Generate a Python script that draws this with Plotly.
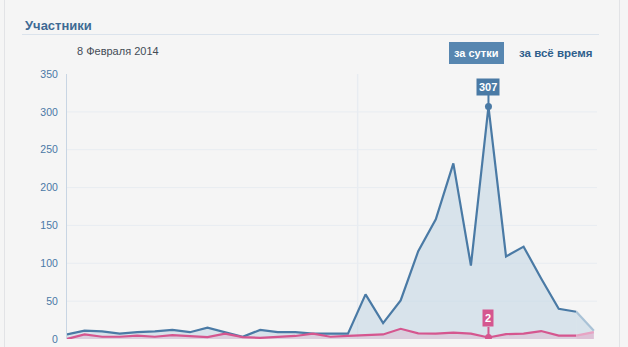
import plotly.graph_objects as go

# ---- data ----
idx = list(range(31))
members_total = [6, 11, 10, 7, 9, 10, 12, 9, 15, 9, 3, 12, 9, 9, 7, 7, 7,
                 59, 21, 51, 116, 158, 232, 97, 307, 109, 122, 80, 40, 36, 11]
members_new = [0, 6, 3, 3, 4.5, 3, 5, 4, 2.5, 7, 2.5, 1.5, 2.5, 4, 7, 3, 4,
               5, 6, 13.5, 7.5, 7, 8.5, 7, 2, 6.5, 7, 10.5, 4.5, 4.5, 9]
y_ticks = [0, 50, 100, 150, 200, 250, 300, 350]
grid_vals = [50, 100, 150, 200, 250, 300]
day_sep = [16.55]
peak_idx = 24

title_text = "Участники"
date_text = "8 Февраля 2014"
btn_active = "за сутки"
btn_other = "за всё время"

# ---- styles ----
BLUE = "#4a7aa5"
BLUE_LIGHT = "#a9c2d6"
BLUE_FILL = "rgba(196,215,229,0.6)"
PINK = "#d5568f"
PINK_LIGHT = "#e7a3c3"
PINK_FILL = "rgba(222,180,205,0.45)"
BG = "#f5f5f5"
TICK_C = "#4a78a6"
GRID_C = "#e8ecf1"
FONT = "Liberation Sans"

W, H = 628, 347
ML, MR, MT, MB = 67, 31, 74, 8
PW = W - ML - MR
PH = H - MT - MB


def px(x):
    return (x - ML) / PW


def py(y):
    return (H - MB - y) / PH


fig = go.Figure()
n = len(idx)
fig.add_trace(go.Scatter(x=idx[:n - 1], y=members_total[:n - 1], mode="lines",
                         line=dict(color=BLUE, width=2.2), fill="tozeroy",
                         fillcolor=BLUE_FILL, hoverinfo="skip"))
fig.add_trace(go.Scatter(x=idx[n - 2:], y=members_total[n - 2:], mode="lines",
                         line=dict(color=BLUE_LIGHT, width=2.2), fill="tozeroy",
                         fillcolor=BLUE_FILL, hoverinfo="skip"))
fig.add_trace(go.Scatter(x=idx[:n - 1], y=members_new[:n - 1], mode="lines",
                         line=dict(color=PINK, width=2.2), fill="tozeroy",
                         fillcolor=PINK_FILL, hoverinfo="skip"))
fig.add_trace(go.Scatter(x=idx[n - 2:], y=members_new[n - 2:], mode="lines",
                         line=dict(color=PINK_LIGHT, width=2.2), fill="tozeroy",
                         fillcolor="rgba(225,170,200,0.6)", hoverinfo="skip"))
fig.add_trace(go.Scatter(x=[idx[peak_idx]], y=[members_total[peak_idx]], mode="markers",
                         marker=dict(color=BLUE, size=7), hoverinfo="skip"))
fig.add_trace(go.Scatter(x=[idx[peak_idx]], y=[members_new[peak_idx]], mode="markers",
                         marker=dict(color=PINK, size=7), hoverinfo="skip"))

shapes = []
for g in grid_vals:
    shapes.append(dict(type="line", xref="paper", yref="y", x0=0, x1=1, y0=g, y1=g,
                       line=dict(color=GRID_C, width=1), layer="below"))
for d in day_sep:
    shapes.append(dict(type="line", xref="x", yref="paper", x0=d, x1=d, y0=0, y1=1,
                       line=dict(color=GRID_C, width=1.5), layer="below"))
shapes.append(dict(type="line", xref="paper", yref="paper", x0=px(22), x1=px(599),
                   y0=py(34.5), y1=py(34.5), line=dict(color="#dbe3ec", width=1)))
for bx in (4.5, 619.5):
    shapes.append(dict(type="line", xref="paper", yref="paper", x0=px(bx), x1=px(bx),
                       y0=py(H), y1=py(0), line=dict(color="#e2e3e6", width=1)))

annotations = [
    dict(text="<b>" + title_text + "</b>", xref="paper", yref="paper", x=px(23), y=py(25),
         xanchor="left", yanchor="middle", showarrow=False,
         font=dict(family=FONT, size=13, color="#3e6a94")),
    dict(text=date_text, xref="paper", yref="paper", x=px(75), y=py(51.5),
         xanchor="left", yanchor="middle", showarrow=False,
         font=dict(family=FONT, size=11, color="#444c55")),
    dict(text="<b>" + btn_active + "</b>", xref="paper", yref="paper", x=px(476), y=py(53.5),
         xanchor="center", yanchor="middle", showarrow=False, bgcolor="#5786b0",
         borderpad=4, bordercolor="#5786b0", borderwidth=1,
         font=dict(family=FONT, size=11, color="white")),
    dict(text="<b>" + btn_other + "</b>", xref="paper", yref="paper", x=px(517), y=py(53.5),
         xanchor="left", yanchor="middle", showarrow=False,
         font=dict(family=FONT, size=11.5, color="#2f5f8c")),
    dict(text="<b>%d</b>" % members_total[peak_idx], x=idx[peak_idx], y=members_total[peak_idx],
         xref="x", yref="y", showarrow=True, arrowhead=0, arrowwidth=2, arrowcolor=BLUE,
         ax=0, ay=-20, bgcolor=BLUE, borderpad=2, font=dict(family=FONT, size=11, color="white")),
    dict(text="<b>%g</b>" % members_new[peak_idx], x=idx[peak_idx], y=members_new[peak_idx],
         xref="x", yref="y", showarrow=True, arrowhead=0, arrowwidth=2, arrowcolor=PINK,
         ax=0, ay=-19, bgcolor=PINK, borderpad=2, font=dict(family=FONT, size=11, color="white")),
]

fig.update_layout(
    width=W, height=H, margin=dict(l=ML, r=MR, t=MT, b=MB, autoexpand=False),
    paper_bgcolor=BG, plot_bgcolor=BG, showlegend=False,
    shapes=shapes, annotations=annotations,
    xaxis=dict(range=[0, 30.18], showgrid=False, zeroline=False, showticklabels=False,
               showline=False, fixedrange=True, automargin=False),
    yaxis=dict(range=[0, 350], tickvals=y_ticks, showgrid=False, zeroline=False,
               showline=True, linecolor="#c8d5e3", linewidth=1, automargin=False,
               ticks="", ticklabelstandoff=6,
               tickfont=dict(family=FONT, size=10.5, color=TICK_C)),
)

fig.write_html("out.html")
